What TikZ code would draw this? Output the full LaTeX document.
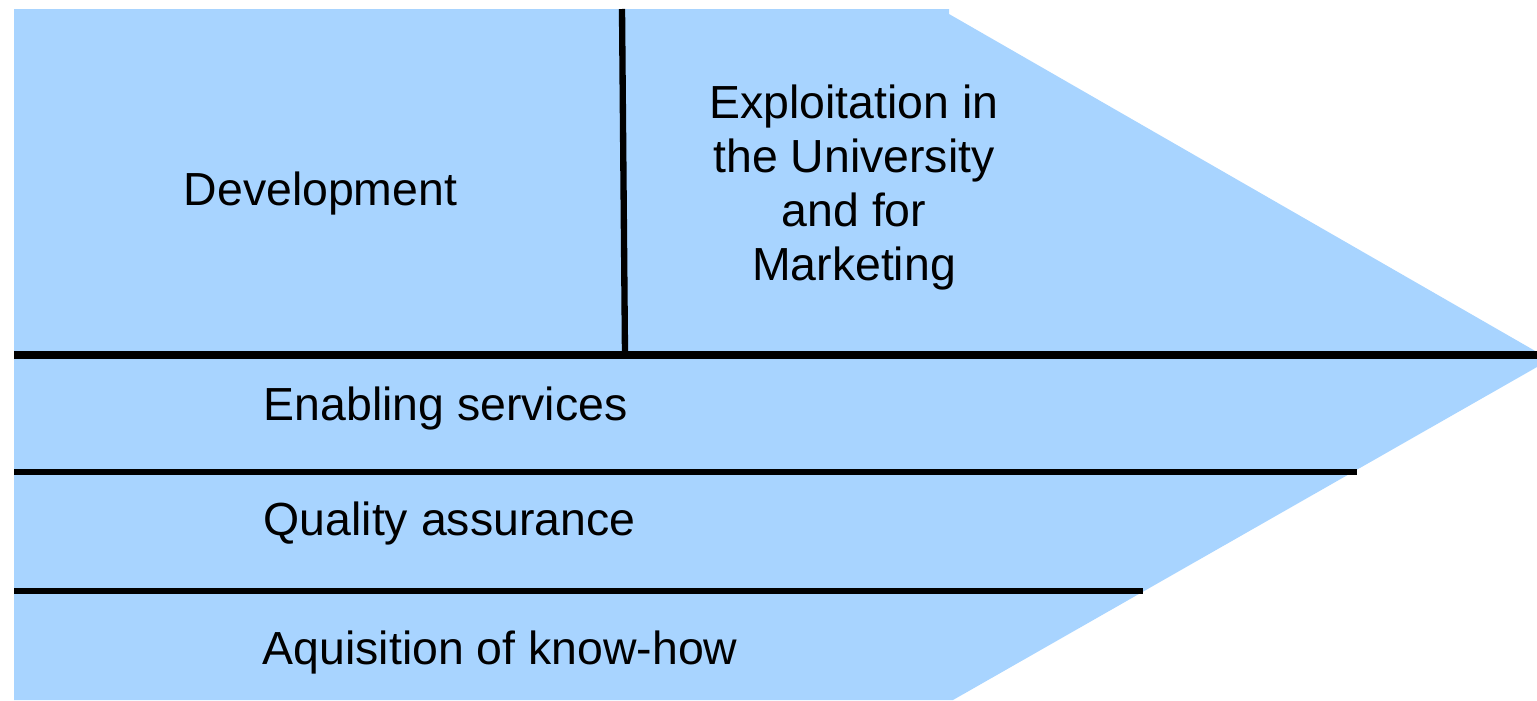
\documentclass[tikz,border=0pt]{standalone}
\usepackage{fontspec}
\setmainfont{Liberation Sans}
\usetikzlibrary{positioning}

\definecolor{chainblue}{HTML}{A8D4FF}

\tikzset{
  label text/.style={font=\fontsize{13.2}{15.4}\selectfont, inner sep=0pt},
  divider/.style={line width=1.8pt},
}

\begin{document}
\begin{tikzpicture}[x=0.01cm, y=-0.01cm]
\useasboundingbox (0,0) rectangle (1537,700);

% arrow body
\fill[chainblue] (14,9) -- (949,9) -- (949,14) -- (1537,352) -- (1537,367)
  -- (953,700) -- (14,700) -- cycle;

% divider ends
\coordinate (vtop) at (622,9);
\coordinate (vbot) at (625,355);
\coordinate (mainL) at (14,355);
\coordinate (mainR) at (1537,355);
\coordinate (qaL) at (14,472);
\coordinate (qaR) at (1357,472);
\coordinate (kwL) at (14,591);
\coordinate (kwR) at (1143,591);

\draw[divider] (vtop) -- (vbot);
\draw[divider, line width=2pt] (mainL) -- (mainR);
\draw[divider] (qaL) -- (qaR);
\draw[divider] (kwL) -- (kwR);

% labels
\node[label text, anchor=base west] (dev) at (183,205) {Development};
\node[label text, anchor=north, align=center] (exploit) at (854,84)
  {Exploitation in\\the University\\and for\\Marketing};
\node[label text, anchor=base west] (enable) at (263,420) {Enabling services};
\node[label text, anchor=base west] (quality) at (263,535) {Quality assurance};
\node[label text, anchor=base west] (knowhow) at (262,664) {Aquisition of know-how};
\end{tikzpicture}
\end{document}
